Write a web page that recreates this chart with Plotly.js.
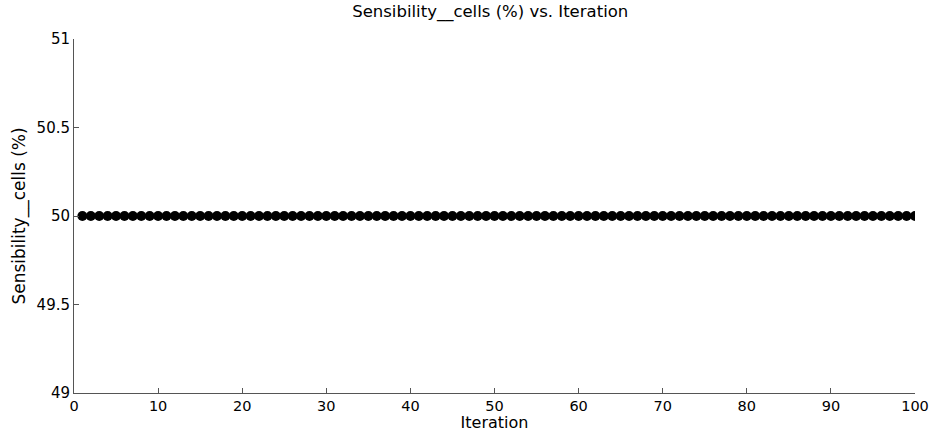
<!DOCTYPE html>
<html><head><meta charset="utf-8">
<script src="https://cdn.plot.ly/plotly-3.0.1.min.js"></script>
<style>html,body{margin:0;padding:0;background:#fff}#c{width:932px;height:432px}</style>
</head><body><div id="c"></div>
<script>
const iterations = [];
for (let i = 1; i <= 100; i++) iterations.push(i);
const sensibility = [50,50,50,50,50,50,50,50,50,50,50,50,50,50,50,50,50,50,50,50,
50,50,50,50,50,50,50,50,50,50,50,50,50,50,50,50,50,50,50,50,
50,50,50,50,50,50,50,50,50,50,50,50,50,50,50,50,50,50,50,50,
50,50,50,50,50,50,50,50,50,50,50,50,50,50,50,50,50,50,50,50,
50,50,50,50,50,50,50,50,50,50,50,50,50,50,50,50,50,50,50,50];
const xTicks = [0,10,20,30,40,50,60,70,80,90,100];
const yTicks = [49,49.5,50,50.5,51];

const font = {family: 'DejaVu Sans, sans-serif', color: '#000'};
Plotly.newPlot('c', [{
  x: iterations, y: sensibility, type: 'scatter', mode: 'lines+markers',
  line: {color: '#000', width: 1},
  marker: {color: '#000', size: 10, symbol: 'circle'}
}], {
  width: 932, height: 432,
  margin: {l: 74, r: 17, t: 39, b: 39},
  paper_bgcolor: '#fff', plot_bgcolor: '#fff',
  showlegend: false,
  title: {text: 'Sensibility__cells (%) vs. Iteration', font: Object.assign({size: 16.5}, font), x: 0.526, xanchor: 'center', y: 0.988, yanchor: 'top'},
  xaxis: {range: [0, 100], tickvals: xTicks, ticktext: xTicks.map(String), showgrid: false, zeroline: false,
    showline: true, linecolor: '#555', linewidth: 1, ticks: 'inside', ticklen: 5, tickcolor: '#555',
    tickfont: Object.assign({size: 14.5}, font),
    title: {text: 'Iteration', font: Object.assign({size: 16}, font), standoff: 2}},
  yaxis: {range: [49, 51], tickvals: yTicks, ticktext: ['49','49.5','50','50.5','51'], showgrid: false, zeroline: false,
    showline: true, linecolor: '#555', linewidth: 1, ticks: 'inside', ticklen: 5, tickcolor: '#555',
    tickfont: Object.assign({size: 15}, font),
    title: {text: 'Sensibility__cells (%)', font: Object.assign({size: 17}, font), standoff: 6}}
}, {staticPlot: true});
</script></body></html>
